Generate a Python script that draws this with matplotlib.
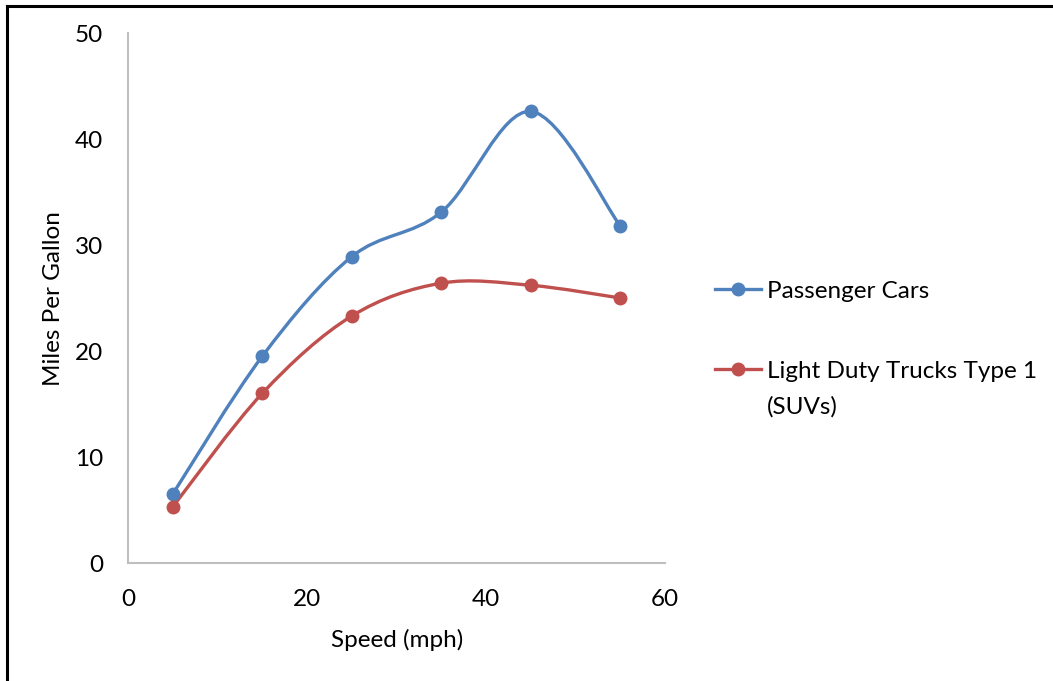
import matplotlib
matplotlib.use("Agg")
import matplotlib.pyplot as plt
from matplotlib.path import Path
from matplotlib.patches import PathPatch
from matplotlib.lines import Line2D
import numpy as np

speed = [5, 15, 25, 35, 45, 55]
passenger_cars = [6.5, 19.5, 28.9, 33.1, 42.6, 31.8]
suvs = [5.3, 16.0, 23.3, 26.4, 26.2, 25.0]
series_names = ["Passenger Cars", ["Light Duty Trucks Type 1", "(SUVs)"]]
x_ticks = [0, 20, 40, 60]
y_ticks = [0, 10, 20, 30, 40, 50]

BLUE = "#4F81BD"
RED = "#C0504D"
FONT = "Lato"
FS = 17.5

plt.rcParams['font.family'] = [FONT, 'DejaVu Sans']

W, H = 1053, 681
fig = plt.figure(figsize=(W / 100, H / 100), dpi=100)
ax = fig.add_axes([128 / W, 1 - 563 / H, 537 / W, 530 / H])


def smooth_path(xs, ys):
    pts = np.column_stack([xs, ys]).astype(float)
    n = len(pts)
    verts = [pts[0]]
    codes = [Path.MOVETO]
    for i in range(n - 1):
        p0 = pts[i - 1] if i > 0 else pts[i]
        p1 = pts[i]
        p2 = pts[i + 1]
        p3 = pts[i + 2] if i + 2 < n else pts[i + 1]
        c1 = p1 + (p2 - p0) / 6.0
        c2 = p2 - (p3 - p1) / 6.0
        verts += [c1, c2, p2]
        codes += [Path.CURVE4] * 3
    return Path(verts, codes)


for ys, c in [(passenger_cars, BLUE), (suvs, RED)]:
    ax.add_patch(PathPatch(smooth_path(speed, ys), facecolor="none",
                           edgecolor=c, lw=2.4, capstyle="round", zorder=2))
    ax.plot(speed, ys, linestyle="none", marker="o", ms=9, color=c, zorder=3)

ax.set_xlim(0, 60)
ax.set_ylim(0, 50)
ax.set_xticks(x_ticks)
ax.set_yticks(y_ticks)
ax.tick_params(length=0, labelsize=FS)
ax.tick_params(axis="y", pad=18)
ax.tick_params(axis="x", pad=19)
for s in ["top", "right"]:
    ax.spines[s].set_visible(False)
for s in ["left", "bottom"]:
    ax.spines[s].set_color("#BFBFBF")
    ax.spines[s].set_linewidth(1.5)

fig.text(397 / W, 1 - 640 / H, "Speed (mph)", ha="center", va="center", fontsize=FS)
fig.text(54 / W, 1 - 299 / H, "Miles Per Gallon", ha="center", va="center",
         rotation=90, fontsize=FS)

# legend
legend_rows = [(289, BLUE, series_names[0]), (369, RED, series_names[1])]
for yy, c, name in legend_rows:
    fig.add_artist(Line2D([715 / W, 761 / W], [1 - yy / H] * 2, color=c, lw=2.4,
                          transform=fig.transFigure))
    fig.add_artist(Line2D([738 / W], [1 - yy / H], color=c, marker="o", ms=9,
                          transform=fig.transFigure))
    lines = name if isinstance(name, list) else [name]
    for k, ln in enumerate(lines):
        fig.text(767 / W, 1 - (yy + 36 * k) / H, ln, ha="left", va="center_baseline",
                 fontsize=FS)

# border (top and left)
fig.add_artist(Line2D([7 / W, 1], [1 - 6 / H, 1 - 6 / H], color="black", lw=2.2,
                      transform=fig.transFigure))
fig.add_artist(Line2D([7 / W, 7 / W], [0, 1 - 6 / H], color="black", lw=2.2,
                      transform=fig.transFigure))

fig.savefig("out.png", dpi=100)
